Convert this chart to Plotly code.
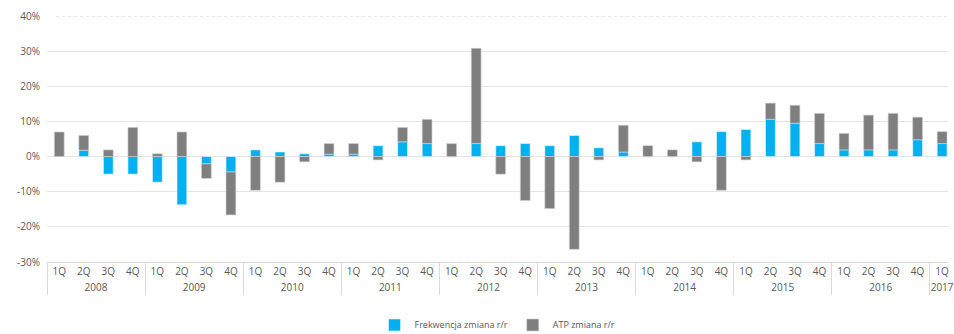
import plotly.graph_objects as go

years = ["2008"] * 4 + ["2009"] * 4 + ["2010"] * 4 + ["2011"] * 4 + ["2012"] * 4 + \
        ["2013"] * 4 + ["2014"] * 4 + ["2015"] * 4 + ["2016"] * 4 + ["2017"]
quarters = ["1Q", "2Q", "3Q", "4Q"] * 9 + ["1Q"]

frekwencja = [0.0, 1.8, -5.0, -5.0,
              -7.3, -13.7, -2.1, -4.4,
              1.9, 1.3, 0.8, 0.7,
              0.7, 3.1, 4.2, 3.7,
              0.0, 3.7, 3.1, 3.7,
              3.1, 6.0, 2.5, 1.3,
              0.0, 0.0, 4.2, 7.1,
              7.7, 10.6, 9.5, 3.7,
              1.9, 1.9, 1.9, 4.8,
              3.7]
atp = [7.0, 4.2, 1.9, 8.3,
       0.8, 7.0, -4.1, -12.2,
       -9.6, -7.3, -1.5, 3.0,
       3.0, -0.95, 4.1, 6.9,
       3.7, 27.1, -5.0, -12.5,
       -14.8, -26.4, -0.95, 7.6,
       3.1, 1.9, -1.5, -9.6,
       -0.95, 4.6, 5.1, 8.6,
       4.7, 9.9, 10.4, 6.4,
       3.4]

series_names = ["Frekwencja zmiana r/r", "ATP zmiana r/r"]
y_ticks = [-30, -20, -10, 0, 10, 20, 30, 40]
y_labels = [f"{v}%" for v in y_ticks]

blue = "#00B0F0"
gray = "#7F7F7F"
txt = "#595959"
font = "Open Sans"

fig = go.Figure()
fig.add_trace(go.Bar(x=[years, quarters], y=frekwencja, name=series_names[0],
                     marker=dict(color=blue, line=dict(width=0.6, color="#e8f6fc"))))
fig.add_trace(go.Bar(x=[years, quarters], y=atp, name=series_names[1],
                     marker=dict(color=gray, line=dict(width=0.6, color="#d0d0d0"))))

fig.update_layout(
    width=954, height=334,
    margin=dict(l=47, r=0, t=16, b=72),
    barmode="relative",
    bargap=0.6,
    plot_bgcolor="white", paper_bgcolor="white",
    font=dict(family=font, size=10, color=txt),
    showlegend=True,
    legend=dict(orientation="h", x=0.5, xanchor="center",
                yref="container", y=0.027, yanchor="middle",
                font=dict(size=9, color=txt), itemwidth=30,
                traceorder="normal"),
    xaxis=dict(type="multicategory", range=[-0.5, 36.24],
               showline=True, linecolor="#d9d9d9", linewidth=1,
               showdividers=True, dividercolor="#d9d9d9", dividerwidth=1,
               tickfont=dict(size=10, color=txt), showgrid=False),
    yaxis=dict(range=[-30, 40], tickvals=y_ticks, ticktext=y_labels,
               showgrid=True, gridcolor="#e4e4e4", gridwidth=1,
               zeroline=False, showline=False, ticks="",
               ticklabelstandoff=6,
               tickfont=dict(size=10, color=txt)),
    shapes=[
        dict(type="line", xref="paper", x0=0, x1=1, yref="y", y0=40, y1=40,
             line=dict(color="white", width=2), layer="below"),
        dict(type="line", xref="paper", x0=0.01, x1=1, yref="y", y0=40, y1=40,
             line=dict(color="#cfcfcf", width=1, dash="dot"), layer="below"),
        dict(type="line", xref="paper", x0=0, x1=1, yref="y", y0=0, y1=0,
             line=dict(color="#bfbfbf", width=1, dash="dash"), layer="below"),
    ],
)

fig.write_html("out.html")
